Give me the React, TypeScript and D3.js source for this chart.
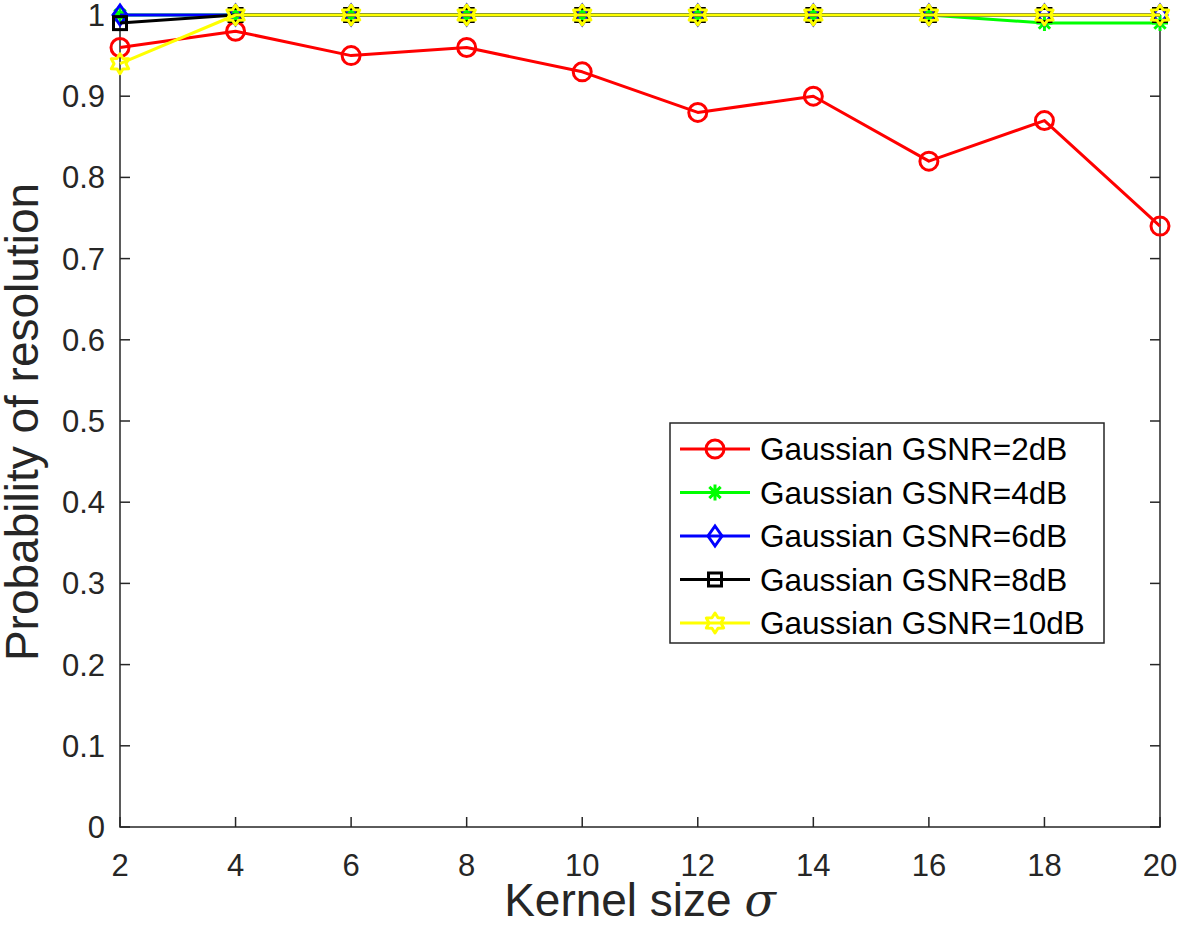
import React from "react";
import * as d3 from "d3";

const kernelSizes = [2, 4, 6, 8, 10, 12, 14, 16, 18, 20];
const gsnr2 = [0.96, 0.98, 0.95, 0.96, 0.93, 0.88, 0.90, 0.82, 0.87, 0.74];
const gsnr4 = [1, 1, 1, 1, 1, 1, 1, 1, 0.99, 0.99];
const gsnr6 = [1, 1, 1, 1, 1, 1, 1, 1, 1, 1];
const gsnr8 = [0.99, 1, 1, 1, 1, 1, 1, 1, 1, 1];
const gsnr10 = [0.94, 1, 1, 1, 1, 1, 1, 1, 1, 1];
const seriesNames = [
  "Gaussian GSNR=2dB",
  "Gaussian GSNR=4dB",
  "Gaussian GSNR=6dB",
  "Gaussian GSNR=8dB",
  "Gaussian GSNR=10dB",
];
const seriesColors = ["#ff0000", "#00ff00", "#0000ff", "#000000", "#ffff00"];
const seriesMarkers = ["circle", "asterisk", "diamond", "square", "hexagram"];
const seriesValues = [gsnr2, gsnr4, gsnr6, gsnr8, gsnr10];
const yTicks = [0, 0.1, 0.2, 0.3, 0.4, 0.5, 0.6, 0.7, 0.8, 0.9, 1];

const W = 1181, H = 940;
const L = 120, R = 1160, T = 15, B = 827;
const FONT = "'Liberation Sans', Arial, Helvetica, sans-serif";

function Marker({ type, x, y, color }: { type: string; x: number; y: number; color: string }) {
  const sw = 3;
  if (type === "circle") return <circle cx={x} cy={y} r={9} fill="none" stroke={color} strokeWidth={sw} />;
  if (type === "square") return <rect x={x - 6.5} y={y - 6.5} width={13} height={13} fill="none" stroke={color} strokeWidth={sw} />;
  if (type === "diamond")
    return <path d={`M${x},${y - 10}L${x + 7},${y}L${x},${y + 10}L${x - 7},${y}Z`} fill="none" stroke={color} strokeWidth={sw} />;
  if (type === "asterisk") {
    const r = 8;
    const segs = [0, 45, 90, 135].map((a) => {
      const rad = (a * Math.PI) / 180;
      const dx = r * Math.cos(rad), dy = r * Math.sin(rad);
      return `M${x - dx},${y - dy}L${x + dx},${y + dy}`;
    });
    return <path d={segs.join("")} stroke={color} strokeWidth={sw} fill="none" />;
  }
  // hexagram
  const pts: string[] = [];
  for (let i = 0; i < 12; i++) {
    const a = (i * Math.PI) / 6 - Math.PI / 2;
    const rr = i % 2 === 0 ? 10 : 6;
    pts.push(`${x + rr * Math.cos(a)},${y + rr * Math.sin(a)}`);
  }
  return <polygon points={pts.join(" ")} fill="none" stroke={color} strokeWidth={sw} strokeLinejoin="round" />;
}

export default function App() {
  const x = d3.scaleLinear().domain([2, 20]).range([L, R]);
  const y = d3.scaleLinear().domain([0, 1]).range([B, T]);
  const line = d3
    .line<number>()
    .x((_, i) => x(kernelSizes[i]))
    .y((d) => y(d));
  const axisColor = "#262626";
  const tickLen = 10;
  const legX = 670, legY = 423, legW = 434, legH = 220;
  const rowH = 43.5;

  return (
    <svg width={W} height={H} style={{ position: "absolute", left: 0, top: 0, background: "#fff" }}>
      {/* axes box */}
      <rect x={L} y={T} width={R - L} height={B - T} fill="none" stroke={axisColor} strokeWidth={1.5} />
      {/* x ticks */}
      {kernelSizes.map((k) => (
        <g key={"xt" + k}>
          <line x1={x(k)} x2={x(k)} y1={B} y2={B - tickLen} stroke={axisColor} strokeWidth={1.5} />
          <line x1={x(k)} x2={x(k)} y1={T} y2={T + tickLen} stroke={axisColor} strokeWidth={1.5} />
          <text x={x(k)} y={876} textAnchor="middle" fontFamily={FONT} fontSize={31} fill={axisColor}>
            {k}
          </text>
        </g>
      ))}
      {/* y ticks */}
      {yTicks.map((v) => (
        <g key={"yt" + v}>
          <line x1={L} x2={L + tickLen} y1={y(v)} y2={y(v)} stroke={axisColor} strokeWidth={1.5} />
          <line x1={R} x2={R - tickLen} y1={y(v)} y2={y(v)} stroke={axisColor} strokeWidth={1.5} />
          <text x={L - 15} y={y(v) + 11} textAnchor="end" fontFamily={FONT} fontSize={31} fill={axisColor}>
            {v === 0 || v === 1 ? String(v) : v.toFixed(1)}
          </text>
        </g>
      ))}
      {/* series */}
      {seriesValues.map((vals, si) => (
        <g key={"s" + si}>
          <path d={line(vals) || ""} fill="none" stroke={seriesColors[si]} strokeWidth={3} strokeLinejoin="round" />
          {vals.map((v, i) => (
            <Marker key={i} type={seriesMarkers[si]} x={x(kernelSizes[i])} y={y(v)} color={seriesColors[si]} />
          ))}
        </g>
      ))}
      {/* axis labels */}
      <text x={(L + R) / 2} y={916} textAnchor="middle" fontFamily={FONT} fontSize={46} fill={axisColor}>
        Kernel size <tspan fontFamily="'DejaVu Serif', 'Liberation Serif', serif" fontStyle="italic">σ</tspan>
      </text>
      <text
        transform={`translate(38,${422}) rotate(-90)`}
        textAnchor="middle"
        fontFamily={FONT}
        fontSize={46}
        fill={axisColor}
      >
        Probability of resolution
      </text>
      {/* legend */}
      <rect x={legX} y={legY} width={legW} height={legH} fill="#fff" stroke={axisColor} strokeWidth={1.5} />
      {seriesNames.map((name, si) => {
        const cy = legY + 26 + si * rowH;
        return (
          <g key={"l" + si}>
            <line x1={680} x2={750} y1={cy} y2={cy} stroke={seriesColors[si]} strokeWidth={3} />
            <Marker type={seriesMarkers[si]} x={715} y={cy} color={seriesColors[si]} />
            <text x={760} y={cy + 11} fontFamily={FONT} fontSize={31.5} fill="#000">
              {name}
            </text>
          </g>
        );
      })}
    </svg>
  );
}
